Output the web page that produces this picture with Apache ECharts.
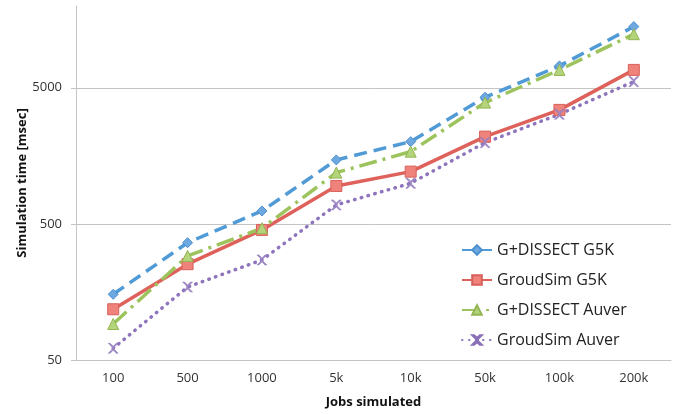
<!DOCTYPE html>
<html>
<head>
<meta charset="utf-8">
<script src="https://cdn.jsdelivr.net/npm/echarts@6/dist/echarts.min.js"></script>
<style>
html,body{margin:0;padding:0;background:#fff;}
#chart{width:680px;height:414px;}
</style>
</head>
<body>
<div id="chart"></div>
<script>
const categories = ['100', '500', '1000', '5k', '10k', '50k', '100k', '200k'];
const gdissectG5K = [152, 364, 623, 1478, 2014, 4272, 7256, 14115];
const groudsimG5K = [118, 253, 452, 951, 1212, 2192, 3447, 6781];
const gdissectAuver = [92, 291, 465, 1192, 1700, 3899, 6781, 12415];
const groudsimAuver = [61, 172, 272, 690, 996, 1981, 3203, 5565];
const yTicks = [50, 500, 5000];

const font = "'Open Sans', 'DejaVu Sans', sans-serif";
const grid = '#c4c4c4';
const xPath = 'path://M0,0 L2,0 L5,3 L8,0 L10,0 L6,4 L6,6 L10,10 L8,10 L5,7 L2,10 L0,10 L4,6 L4,4 Z';

const chart = echarts.init(document.getElementById('chart'), null, {renderer: 'canvas'});
chart.setOption({
  animation: false,
  backgroundColor: '#fff',
  grid: {left: 76, right: 9, top: 6, bottom: 54, containLabel: false},
  legend: {
    orient: 'vertical',
    left: 456,
    top: 237,
    itemWidth: 30,
    itemHeight: 12,
    itemGap: 14,
    textStyle: {fontFamily: font, fontSize: 16, color: '#222'},
    data: ['G+DISSECT G5K', 'GroudSim G5K', 'G+DISSECT Auver', 'GroudSim Auver']
  },
  xAxis: {
    type: 'category',
    data: categories,
    boundaryGap: true,
    name: 'Jobs simulated',
    nameLocation: 'middle',
    nameGap: 36,
    nameMoveOverlap: false,
    nameTextStyle: {fontFamily: font, fontSize: 13, fontWeight: 'bold', color: '#111'},
    axisLine: {lineStyle: {color: grid, width: 1}},
    axisTick: {show: false},
    axisLabel: {fontFamily: font, fontSize: 13, color: '#333', margin: 12},
    splitLine: {show: false}
  },
  yAxis: {
    type: 'log',
    logBase: 10,
    min: 50,
    max: 20000,
    interval: 1,
    name: 'Simulation time [msec]',
    nameLocation: 'middle',
    nameGap: 47,
    nameMoveOverlap: false,
    nameTextStyle: {fontFamily: font, fontSize: 13, fontWeight: 'bold', color: '#111'},
    axisLine: {show: true, lineStyle: {color: grid, width: 1}},
    axisTick: {show: true, length: 5, lineStyle: {color: grid}},
    axisLabel: {
      fontFamily: font, fontSize: 13, color: '#333', margin: 14,
      showMaxLabel: false,
      formatter: function (v) {
        for (let i = 0; i < yTicks.length; i++) {
          if (Math.abs(Math.log10(v / yTicks[i])) < 0.02) return String(yTicks[i]);
        }
        return '';
      }
    },
    splitLine: {show: true, lineStyle: {color: [grid, grid, grid, 'rgba(0,0,0,0)'], width: 1}}
  },
  series: [
    {
      name: 'G+DISSECT G5K', type: 'line', data: gdissectG5K,
      symbol: 'diamond', symbolSize: 10,
      itemStyle: {color: '#6ea8e0', borderColor: '#4d90d0', borderWidth: 1},
      lineStyle: {color: '#509ad6', width: 3.5, type: [13, 7]}
    },
    {
      name: 'GroudSim G5K', type: 'line', data: groudsimG5K,
      symbol: 'rect', symbolSize: 11,
      itemStyle: {color: '#f0827c', borderColor: '#d8605a', borderWidth: 1},
      lineStyle: {color: '#de625b', width: 3.5, type: 'solid'}
    },
    {
      name: 'G+DISSECT Auver', type: 'line', data: gdissectAuver,
      symbol: 'triangle', symbolSize: 11,
      itemStyle: {color: '#b3d47a', borderColor: '#93b552', borderWidth: 1},
      lineStyle: {color: '#9dc35c', width: 3.5, type: [18, 6, 3, 6]}
    },
    {
      name: 'GroudSim Auver', type: 'line', data: groudsimAuver,
      symbol: xPath, symbolSize: 10,
      itemStyle: {color: '#a08ac6', borderColor: '#8a70b8', borderWidth: 0.5},
      lineStyle: {color: '#8e74bc', width: 3.5, type: [0.5, 6.5], cap: 'round'}
    }
  ]
});
</script>
</body>
</html>
